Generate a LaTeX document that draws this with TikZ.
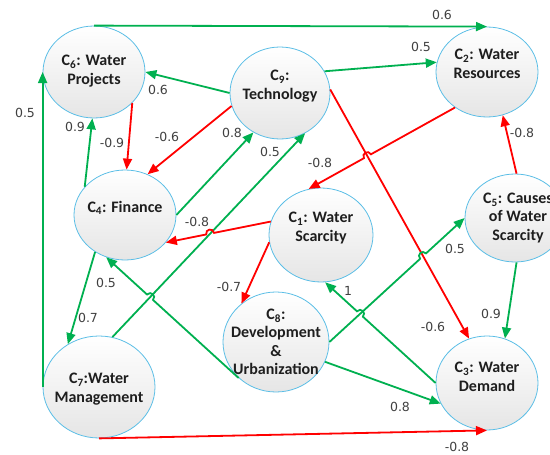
\documentclass[tikz,border=0pt]{standalone}
\usepackage{fontspec}
\setmainfont{Carlito}
\newfontfamily\lblfont{DejaVu Sans}
\usetikzlibrary{arrows.meta,shapes.geometric,calc,intersections}
\definecolor{ggreen}{RGB}{0,176,80}
\definecolor{rred}{RGB}{255,0,0}
\definecolor{cblue}{RGB}{91,190,230}
\definecolor{txtc}{RGB}{30,30,30}
\definecolor{lblc}{RGB}{64,64,64}
\tikzset{
  concept/.style={ellipse, draw=cblue, line width=0.8pt, top color=white, bottom color=black!10, inner sep=0pt},
  ctext/.style={font=\bfseries\fontsize{16}{18.5}\selectfont, text=txtc, align=center, inner sep=0pt},
  wlbl/.style={font=\lblfont\fontsize{12.5}{14}\selectfont, text=lblc, inner sep=0pt},
  gedge/.style={draw=ggreen, line width=1.8pt, -{Triangle[length=11pt,width=9pt]}},
  redge/.style={draw=rred, line width=1.8pt, -{Triangle[length=11pt,width=9pt]}},
}
\newcommand\hopedge[6]{%
  \path[name path=hoptmp] (#2) -- (#3);
  \path[name intersections={of=hoptmp and #4, by=hx}];
  \coordinate (ha) at ($(hx)!4pt!(#2)$);
  \coordinate (hb) at ($(hx)!4pt!(#3)$);
  \draw[#1] (#2) -- (ha) .. controls ($(ha)!5.5pt!#5:(hx)$) and ($(hb)!5.5pt!#6:(hx)$) .. (hb) -- (#3);
}
\begin{document}
\begin{tikzpicture}[x=1pt,y=-1pt]
\useasboundingbox (0,0) rectangle (550,455);
% concepts
\node[concept, minimum width=102pt, minimum height=92pt] (c6) at (94,72) {};
\node[concept, minimum width=100pt, minimum height=92pt] (c9) at (280,93) {};
\node[concept, minimum width=102pt, minimum height=90pt] (c2) at (487,72) {};
\node[concept, minimum width=102pt, minimum height=90pt] (c4) at (125,215) {};
\node[concept, minimum width=104pt, minimum height=94pt] (c1) at (321,235) {};
\node[concept, minimum width=100pt, minimum height=88pt] (c5) at (515,218) {};
\node[concept, minimum width=106pt, minimum height=100pt] (c8) at (276,342) {};
\node[concept, minimum width=102pt, minimum height=94pt] (c3) at (487,383) {};
\node[concept, minimum width=112pt, minimum height=102pt] (c7) at (99,387) {};
% texts
\node[ctext] (t6) at ([yshift=1pt]c6.center) {C\textsubscript{6}: Water\\Projects};
\node[ctext] (t9) at ([yshift=7pt]c9.center) {C\textsubscript{9}:\\Technology};
\node[ctext] (t2) at ([yshift=8pt]c2.center) {C\textsubscript{2}: Water\\Resources};
\node[ctext] (t4) at ([yshift=7pt]c4.center) {C\textsubscript{4}: Finance};
\node[ctext] (t1) at ([yshift=7pt]c1.center) {C\textsubscript{1}: Water\\Scarcity};
\node[ctext] (t5) at ([xshift=3pt]c5.center) {C\textsubscript{5}: Causes\\of Water\\Scarcity};
\node[ctext] (t8) at ([yshift=0pt]c8.center) {C\textsubscript{8}:\\Development\\\&\\Urbanization};
\node[ctext] (t3) at ([yshift=6pt]c3.center) {C\textsubscript{3}: Water\\Demand};
\node[ctext] (t7) at ([yshift=-2pt]c7.center) {C\textsubscript{7}:Water\\Management};
% straight connectors
\draw[gedge] (c6.north) -- (c2.north);
\draw[gedge] (c7.west) -- (c6.west);
\draw[gedge] (c9.west) -- (c6.east);
\draw[gedge] (c9.26) -- (c2.169);
\draw[gedge] (c4.145) -- (c6.268);
\draw[redge] (c6.321) -- (c4.88);
\draw[redge] (c9.195) -- (c4.61);
\draw[gedge] (c4.east) -- (c9.236);
\draw[gedge, name path=e79] (c7.75) -- (c9.302);
\draw[redge, name path=e93] (c9.4) -- (c3.112);
\draw[redge] (c5.88) -- (c2.290);
\draw[gedge] (c5.272) -- (c3.68);
\draw[gedge] (c8.338) -- (c3.204);
\draw[redge] (c7.south) -- (c3.south);
\draw[redge] (c1.188) -- (c8.132);
\draw[gedge] (c4.231) -- (c7.126);
\path[name path=e85] (c8.east) -- (c5.west);
% connectors with hops
\hopedge{redge}{c1.165}{c4.326}{e79}{-90}{90}
\hopedge{redge}{c2.228}{c1.105}{e93}{-90}{90}
\hopedge{gedge}{c8.east}{c5.west}{e93}{90}{-90}
\hopedge{gedge}{c3.west}{c1.275}{e85}{-90}{90}
\hopedge{gedge}{c8.224}{c4.246}{e79}{-90}{90}
% weights
\node[wlbl] (l62) at (442,15) {0.6};
\node[wlbl] (l76) at (25,113) {0.5};
\node[wlbl] (l96) at (158,90) {0.6};
\node[wlbl] (l92) at (421,47) {0.5};
\node[wlbl] (l46) at (75,127) {0.9};
\node[wlbl] (l64) at (112,143) {-0.9};
\node[wlbl] (l94) at (167,137) {-0.6};
\node[wlbl] (l49) at (232,133) {0.8};
\node[wlbl] (l79) at (270,152) {0.5};
\node[wlbl] (l14) at (197,222) {-0.8};
\node[wlbl] (l21) at (320,163) {-0.8};
\node[wlbl] (l93) at (433,327) {-0.6};
\node[wlbl] (l52) at (522,133) {-0.8};
\node[wlbl] (l53) at (491,314) {0.9};
\node[wlbl] (l85) at (455,249) {0.5};
\node[wlbl] (l31) at (348,291) {1};
\node[wlbl] (l83) at (400,407) {0.8};
\node[wlbl] (l73) at (457,447) {-0.8};
\node[wlbl] (l18) at (229,287) {-0.7};
\node[wlbl] (l47) at (88,318) {0.7};
\node[wlbl] (l84) at (106,283) {0.5};
\end{tikzpicture}
\end{document}
